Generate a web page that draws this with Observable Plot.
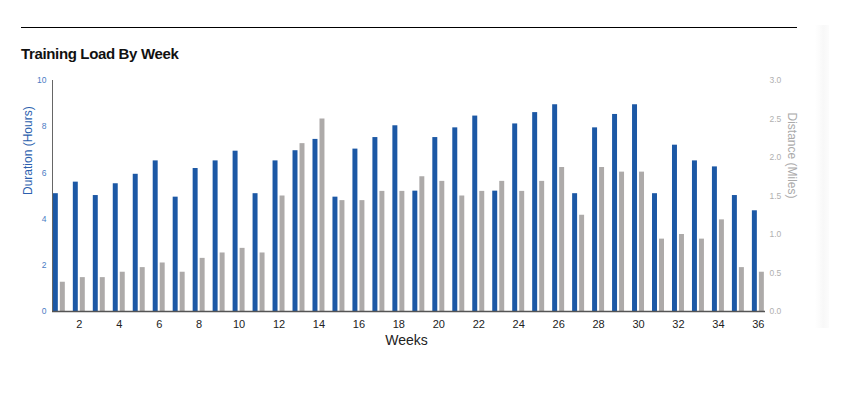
<!DOCTYPE html>
<html>
<head>
<meta charset="utf-8">
<script src="https://cdn.jsdelivr.net/npm/d3@7"></script>
<script src="https://cdn.jsdelivr.net/npm/@observablehq/plot@0.6"></script>
<style>
  html, body { margin: 0; padding: 0; background: #fff; }
  body { width: 846px; height: 393px; position: relative; overflow: hidden; font-family: "Liberation Sans", Arial, sans-serif; }
  #rule { position: absolute; left: 21px; top: 27px; width: 776px; height: 1.3px; background: #000; }
  #title { position: absolute; left: 21px; top: 46px; font-size: 15px; line-height: 15px; font-weight: bold; letter-spacing: -0.35px; color: #111; }
  #strip { position: absolute; left: 815px; top: 25px; width: 14px; height: 303px; background: linear-gradient(to right, #ffffff, #f8f8f8 60%, #fcfcfc); }
  #chart { position: absolute; left: 0; top: 70px; }
</style>
</head>
<body>
<div id="strip"></div>
<div id="rule"></div>
<div id="title">Training Load By Week</div>
<div id="chart"></div>
<script>
const weeks = Array.from({length: 36}, (_, i) => i + 1);
const hours = [5.10, 5.60, 5.02, 5.53, 5.94, 6.52, 4.95, 6.19, 6.52, 6.94, 5.10, 6.52,
               6.96, 7.45, 4.95, 7.03, 7.53, 8.04, 5.21, 7.53, 7.95, 8.46, 5.21, 8.12,
               8.61, 8.95, 5.10, 7.95, 8.53, 8.95, 5.10, 7.20, 6.52, 6.26, 5.02, 4.36];
const miles = [0.38, 0.44, 0.44, 0.51, 0.57, 0.63, 0.51, 0.69, 0.76, 0.82, 0.76, 1.50,
               2.18, 2.50, 1.44, 1.44, 1.56, 1.56, 1.75, 1.69, 1.50, 1.56, 1.69, 1.56,
               1.69, 1.87, 1.25, 1.87, 1.81, 1.81, 0.94, 1.00, 0.94, 1.19, 0.57, 0.51];
const hourTicks = [0, 2, 4, 6, 8, 10];
const mileTicks = [0, 0.5, 1.0, 1.5, 2.0, 2.5, 3.0];
const weekTicks = weeks.filter(w => w % 2 === 0);

const HOURS_MAX = 10, MILES_MAX = 3;
const toHours = m => m * HOURS_MAX / MILES_MAX;

const rows = weeks.map((w, i) => ({week: w, hours: hours[i], miles: miles[i]}));

const BLUE = "#1c58a5", GRAY = "#adaaa9";

const chart = Plot.plot({
  width: 846,
  height: 290,
  marginLeft: 52,
  marginRight: 81,
  marginTop: 10,
  marginBottom: 49,
  style: {fontFamily: "'Liberation Sans', Arial, sans-serif", background: "transparent", overflow: "visible"},
  x: {type: "band", domain: weeks, range: [48.85, 767.85], padding: 0, round: false, axis: null},
  y: {domain: [0, HOURS_MAX], axis: null},
  marks: [
    Plot.barY(rows, {x: "week", y: "hours", fill: BLUE, insetLeft: 4, insetRight: 11}),
    Plot.barY(rows, {x: "week", y: d => toHours(d.miles), fill: GRAY, insetLeft: 11, insetRight: 4}),
    Plot.frame({anchor: "left", stroke: "#666", strokeWidth: 1}),
    Plot.ruleY([0], {stroke: "#555", strokeWidth: 1.3}),
    Plot.axisY({anchor: "left", ticks: hourTicks, tickSize: 0, tickPadding: 6, fontSize: 8.5, color: "#4b7cc4", label: null}),
    Plot.axisY({anchor: "right", ticks: mileTicks.map(toHours), tickFormat: d => (d * MILES_MAX / HOURS_MAX).toFixed(1), tickSize: 0, tickPadding: 4, fontSize: 8.5, color: "#b0b0b0", label: null}),
    Plot.axisX(weekTicks, {tickSize: 0, tickPadding: 8.5, fontSize: 11, color: "#222", label: null}),
    Plot.text(["Weeks"], {text: d => d, frameAnchor: "bottom", dy: 33, dx: -2.5, fontSize: 14, fill: "#222"}),
    Plot.text(["Duration (Hours)"], {text: d => d, frameAnchor: "left", rotate: -90, dx: -24.5, dy: -1, fontSize: 12, fill: "#2c5fae"}),
    Plot.text(["Distance (Miles)"], {text: d => d, frameAnchor: "right", rotate: 90, dx: 26, dy: 2.5, fontSize: 12, fill: "#aaaaaa"})
  ]
});
document.getElementById("chart").appendChild(chart);
</script>
</body>
</html>
